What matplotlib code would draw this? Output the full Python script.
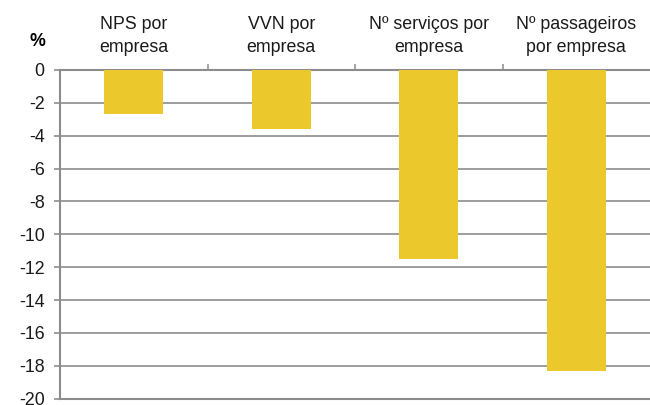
import numpy as np
import matplotlib
matplotlib.use("Agg")
import matplotlib.pyplot as plt

categorias = ["NPS por\nempresa", "VVN por\nempresa", "Nº serviços por\nempresa", "Nº passageiros\npor empresa"]
variacao = [-2.7, -3.6, -11.5, -18.3]
yticks = list(range(0, -21, -2))

plt.rcParams["font.family"] = ["Liberation Sans", "DejaVu Sans"]
plt.rcParams["font.size"] = 12.8

cinza = "#8c8c8c"
amarelo = "#ebc92d"

fig = plt.figure(figsize=(6.5, 4.05), dpi=100)
ax = fig.add_axes([60 / 650, 1 - 398.7 / 405, 1 - 60 / 650, (398.7 - 70) / 405])

x = np.arange(len(categorias))
ax.bar(x, variacao, width=0.4, color=amarelo, zorder=3)

ax.set_xlim(-0.5, len(categorias) - 0.5)
ax.set_ylim(-20, 0)
ax.set_yticks(yticks)
ax.set_yticklabels([str(v) for v in yticks])
ax.yaxis.grid(True, color=cinza, linewidth=1.2, zorder=0)

# categorias no topo, ticks entre elas
ax.xaxis.tick_top()
ax.set_xticks(x)
ax.set_xticklabels(categorias, linespacing=1.5, color="#1a1a1a")
ax.set_xticks(x[:-1] + 0.5, minor=True)
ax.tick_params(axis="x", which="major", length=0, pad=10)
ax.tick_params(axis="x", which="minor", length=4, color=cinza, width=1.1, direction="out")
ax.tick_params(axis="y", length=4, color=cinza, width=1.2, pad=7, labelcolor="#1a1a1a")

for lado in ["left", "bottom", "top"]:
    ax.spines[lado].set_color(cinza)
    ax.spines[lado].set_linewidth(1.5)
ax.spines["right"].set_visible(False)

fig.text(37 / 650, 1 - 41 / 405, "%", ha="center", va="center", fontweight="bold", fontsize=12.8)

fig.savefig("out.png", dpi=100)
